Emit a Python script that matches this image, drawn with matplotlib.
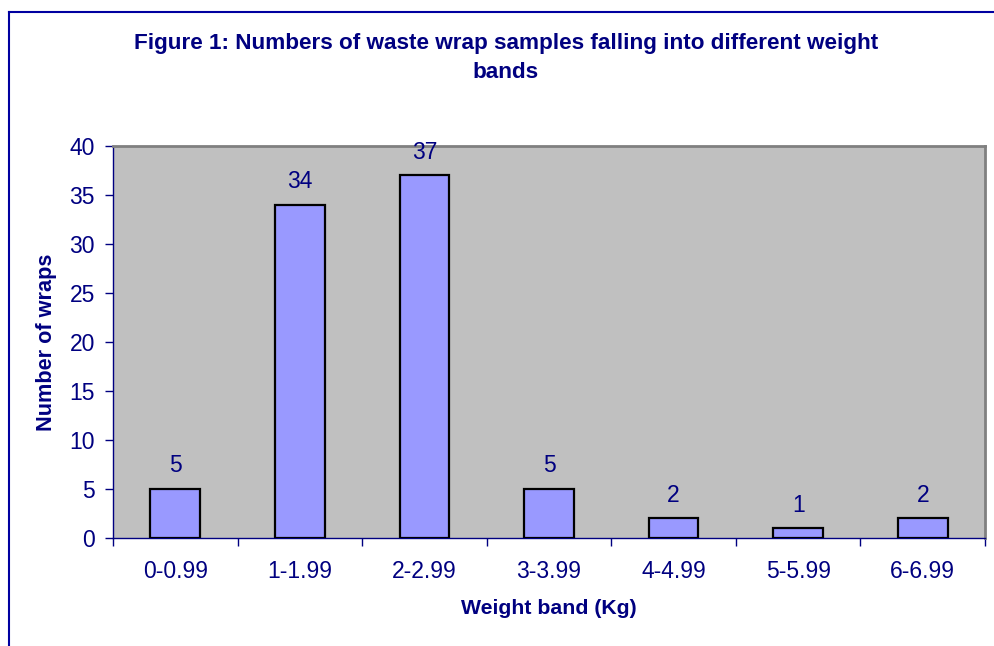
import matplotlib
matplotlib.use("Agg")
import matplotlib.pyplot as plt
from matplotlib.lines import Line2D

plt.rcParams['font.family'] = ['Liberation Sans', 'DejaVu Sans']

categories = ["0-0.99", "1-1.99", "2-2.99", "3-3.99", "4-4.99", "5-5.99", "6-6.99"]
counts = [5, 34, 37, 5, 2, 1, 2]
y_ticks = [0, 5, 10, 15, 20, 25, 30, 35, 40]

NAVY = "#000080"
W, H = 994, 646

fig = plt.figure(figsize=(W / 100, H / 100), dpi=100)
fig.patch.set_facecolor("white")

# outer chart frame (left and top edges)
fig.add_artist(Line2D([8.5 / W, 8.5 / W], [0, 1 - 12 / H], transform=fig.transFigure,
                      color="#0000A0", lw=1.5))
fig.add_artist(Line2D([8.5 / W, 1], [1 - 12 / H, 1 - 12 / H], transform=fig.transFigure,
                      color="#0000A0", lw=1.5))

ax = fig.add_axes([113 / W, 1 - 538 / H, 872 / W, 392 / H])
ax.set_facecolor("#C0C0C0")

x = list(range(len(categories)))
bars = ax.bar(x, counts, width=0.4, color="#9999FF", edgecolor="black", linewidth=1.6, zorder=3)

for xi, v in zip(x, counts):
    ax.annotate(str(v), (xi, v), xytext=(0, 23), textcoords="offset pixels",
                ha="center", va="center", fontsize=16.5, color=NAVY, zorder=4,
                annotation_clip=False)

ax.set_xlim(-0.5, len(categories) - 0.5)
ax.set_ylim(0, 40)

ax.set_yticks(y_ticks)
ax.set_yticklabels([str(t) for t in y_ticks])
ax.set_xticks(x)
ax.set_xticklabels(categories)
ax.set_xticks([i - 0.5 for i in range(len(categories) + 1)], minor=True)

ax.tick_params(axis="y", direction="out", length=6, width=1, color=NAVY,
               labelsize=16.5, labelcolor=NAVY, pad=7)
ax.tick_params(axis="x", which="major", length=0, labelsize=16.5, labelcolor=NAVY, pad=16)
ax.tick_params(axis="x", which="minor", direction="out", length=6, width=1, color=NAVY)

ax.spines["left"].set_color(NAVY)
ax.spines["bottom"].set_color(NAVY)
ax.spines["left"].set_linewidth(1)
ax.spines["bottom"].set_linewidth(1)
ax.spines["top"].set_color("#808080")
ax.spines["right"].set_color("#808080")
ax.spines["top"].set_linewidth(2)
ax.spines["right"].set_linewidth(2)

fig.text(506 / W, 1 - 44 / H, "Figure 1: Numbers of waste wrap samples falling into different weight",
         ha="center", va="center", fontsize=16.2, fontweight="bold", color=NAVY)
fig.text(506 / W, 1 - 73 / H, "bands",
         ha="center", va="center", fontsize=16.2, fontweight="bold", color=NAVY)

fig.text(549 / W, 1 - 609 / H, "Weight band (Kg)", ha="center", va="center",
         fontsize=15.3, fontweight="bold", color=NAVY)
fig.text(47 / W, 1 - 342 / H, "Number of wraps", ha="center", va="center", rotation=90,
         fontsize=15.6, fontweight="bold", color=NAVY)

fig.savefig("out.png", dpi=100, facecolor="white")
